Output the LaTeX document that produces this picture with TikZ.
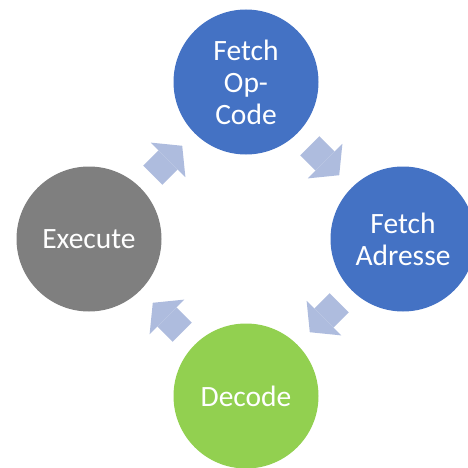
\documentclass[tikz,border=0pt]{standalone}
\usepackage{fontspec}
\setmainfont{Carlito}
\usepackage{tikz}
\usetikzlibrary{arrows.meta,positioning}

\definecolor{phaseblue}{RGB}{68,114,196}
\definecolor{phasegreen}{RGB}{146,208,80}
\definecolor{phasegray}{RGB}{127,127,127}
\definecolor{flowblue}{RGB}{174,188,222}

\begin{document}
\begin{tikzpicture}[x=1pt,y=1pt,node distance=157pt,on grid]
  \tikzstyle{phase}=[circle,minimum size=145pt,inner sep=0pt,text=white,
    align=center,font=\fontsize{29.5}{32}\selectfont]
  \tikzstyle{flow}=[color=flowblue,line width=27pt,shorten <=17.5pt,shorten >=17.5pt,
    -{Triangle[length=20pt,width=49pt,line width=0pt,fill=flowblue]}]

  \useasboundingbox (0,0) rectangle (468,467);

  \node[phase,fill=phaseblue]  (fetch_op)                                   at (246,385) {Fetch\\Op-\\Code};
  \node[phase,fill=phaseblue]  (fetch_adr) [below right=157pt and 157pt of fetch_op]  {Fetch\\Adresse};
  \node[phase,fill=phasegreen] (decode)    [below left=157pt and 157pt of fetch_adr]  {Decode};
  \node[phase,fill=phasegray]  (execute)   [above left=157pt and 157pt of decode]     {Execute};

  \path[flow]
  (fetch_op)  edge (fetch_adr)
  (fetch_adr) edge (decode)
  (decode)    edge (execute)
  (execute)   edge (fetch_op);
\end{tikzpicture}
\end{document}
